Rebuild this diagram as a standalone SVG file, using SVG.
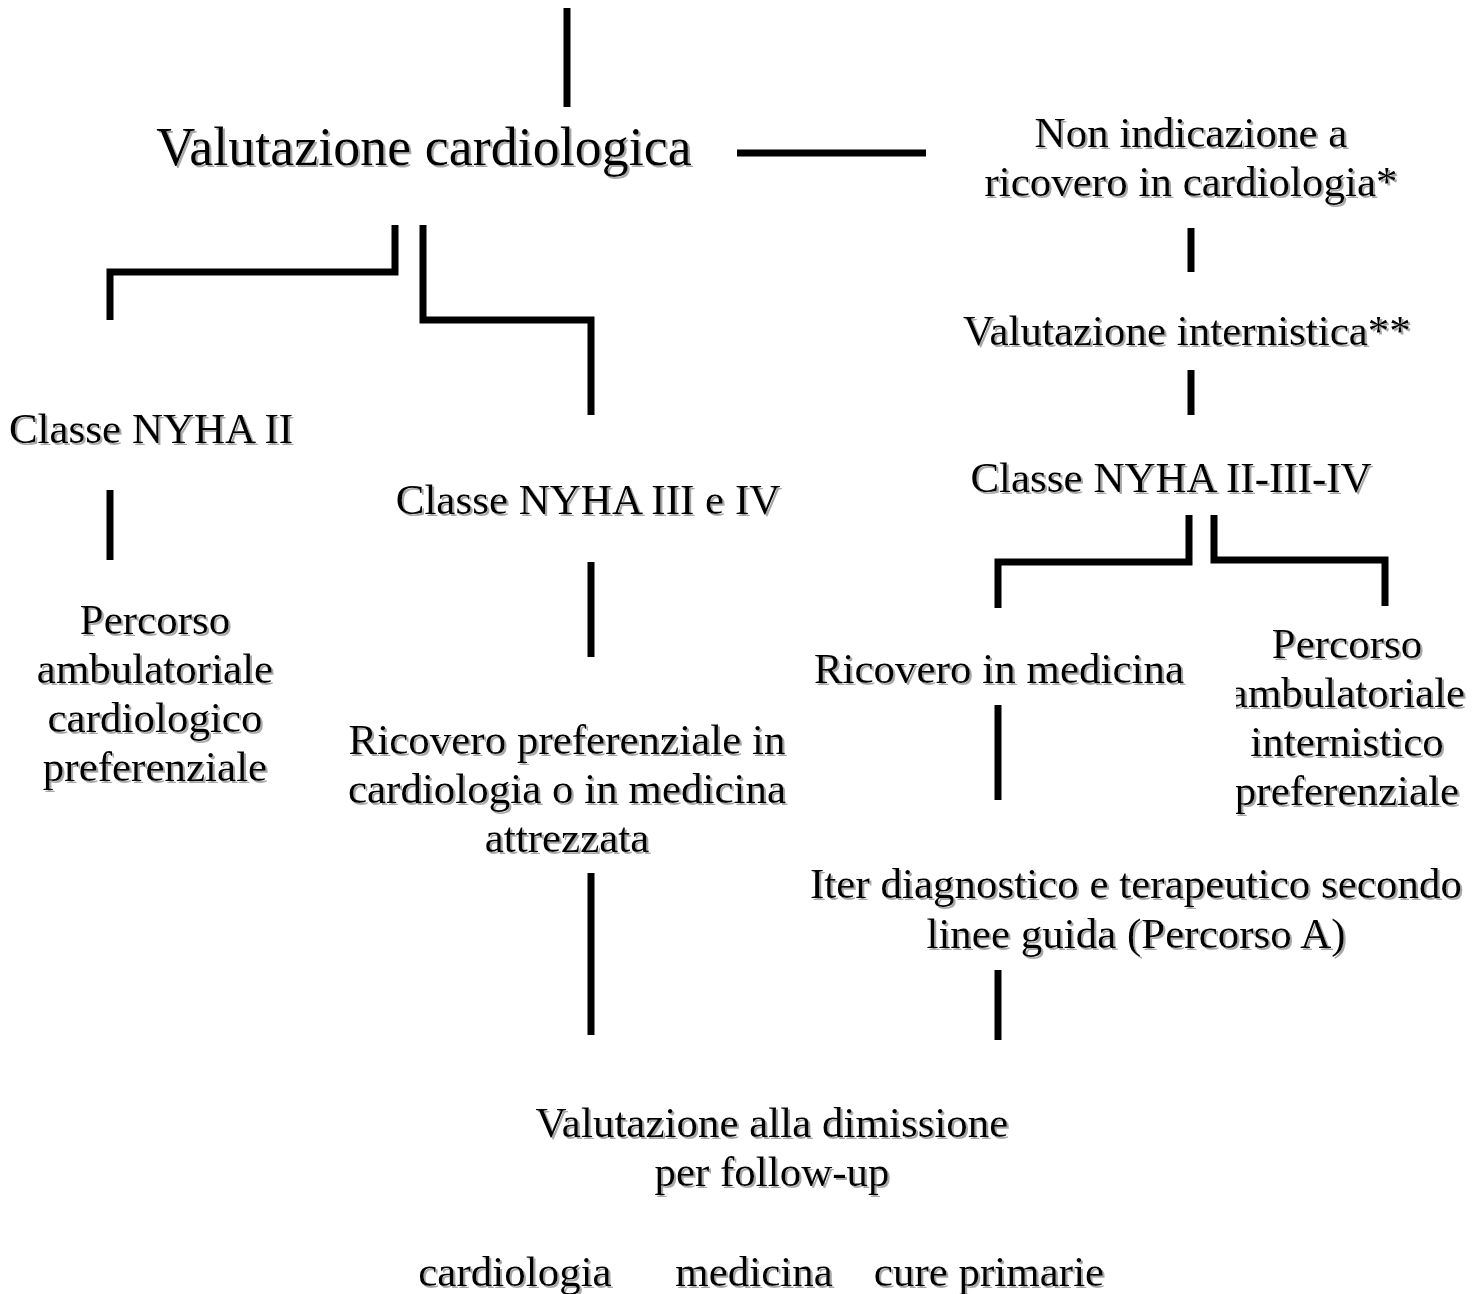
<svg xmlns="http://www.w3.org/2000/svg" width="1480" height="1294" viewBox="0 0 1480 1294">
<defs>
<filter id="sh" x="-5%" y="-20%" width="110%" height="140%">
<feOffset in="SourceAlpha" dx="2" dy="2" result="o"/>
<feFlood flood-color="#a8a8a8"/>
<feComposite in2="o" operator="in" result="s"/>
<feMerge><feMergeNode in="s"/><feMergeNode in="SourceGraphic"/></feMerge>
</filter>
<clipPath id="cr"><rect x="1236" y="600" width="244" height="230"/></clipPath>
</defs>
<style>
text{font-family:"Liberation Serif","Times New Roman",serif;font-size:43px;fill:#000;text-anchor:middle;filter:url(#sh)}
.big{font-size:54px}
.c{fill:none;stroke:#000;stroke-width:7;stroke-linejoin:miter;stroke-linecap:butt}
</style>
<rect width="1480" height="1294" fill="#fff"/>
<g id="connectors" class="c">
<line x1="567" y1="8" x2="567" y2="107"/>
<line x1="737" y1="153" x2="926" y2="153"/>
<line x1="1191" y1="228" x2="1191" y2="272"/>
<line x1="1191" y1="370" x2="1191" y2="415"/>
<polyline points="1189,515 1189,562 998,562 998,608"/>
<polyline points="1214,515 1214,560 1385,560 1385,606"/>
<line x1="998" y1="705" x2="998" y2="800"/>
<line x1="998" y1="970" x2="998" y2="1040"/>
<polyline points="395,225 395,272 110,272 110,320"/>
<polyline points="423,225 423,320 591,320 591,415"/>
<line x1="110" y1="490" x2="110" y2="560"/>
<line x1="591" y1="562" x2="591" y2="657"/>
<line x1="591" y1="873" x2="591" y2="1035"/>
</g>
<g id="valutazione-cardiologica"><text class="big" x="424" y="165">Valutazione cardiologica</text></g>
<g id="non-indicazione"><text x="1191" y="147">Non indicazione a</text><text x="1191" y="196">ricovero in cardiologia*</text></g>
<g id="valutazione-internistica"><text x="1187" y="345">Valutazione internistica**</text></g>
<g id="classe-nyha-ii-iii-iv"><text x="1171" y="492">Classe NYHA II-III-IV</text></g>
<g id="ricovero-medicina"><text x="999" y="683">Ricovero in medicina</text></g>
<g id="percorso-internistico" clip-path="url(#cr)"><text x="1347" y="658">Percorso</text><text x="1347" y="707">ambulatoriale</text><text x="1347" y="756">internistico</text><text x="1347" y="805">preferenziale</text></g>
<g id="iter-diagnostico"><text x="1136" y="898">Iter diagnostico e terapeutico secondo</text><text x="1136" y="948">linee guida (Percorso A)</text></g>
<g id="classe-nyha-ii"><text x="151" y="443">Classe NYHA II</text></g>
<g id="percorso-cardiologico"><text x="155" y="634">Percorso</text><text x="155" y="683">ambulatoriale</text><text x="155" y="732">cardiologico</text><text x="155" y="781">preferenziale</text></g>
<g id="classe-nyha-iii-iv"><text x="588" y="514">Classe NYHA III e IV</text></g>
<g id="ricovero-preferenziale"><text x="567" y="754">Ricovero preferenziale in</text><text x="567" y="803">cardiologia o in medicina</text><text x="567" y="852">attrezzata</text></g>
<g id="valutazione-dimissione"><text x="772" y="1137">Valutazione alla dimissione</text><text x="772" y="1186">per follow-up</text></g>
<g id="destinazioni"><text x="515" y="1286">cardiologia</text><text x="754" y="1286">medicina</text><text x="989" y="1286">cure primarie</text></g>
</svg>
